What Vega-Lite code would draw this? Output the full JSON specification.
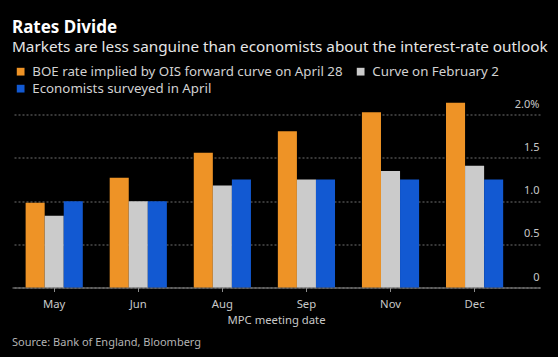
{
  "$schema": "https://vega.github.io/schema/vega-lite/v6.json",
  "background": "#000000",
  "autosize": {"type": "pad"},
  "padding": {"left": 12, "top": 18.5, "right": 10, "bottom": 10},
  "title": {
    "text": "Rates Divide",
    "subtitle": "Markets are less sanguine than economists about the interest-rate outlook",
    "anchor": "start",
    "frame": "group",
    "font": "Noto Sans",
    "fontSize": 17,
    "fontWeight": "bold",
    "color": "#ffffff",
    "subtitleFont": "Noto Sans",
    "subtitleFontSize": 15.3,
    "subtitleColor": "#e6e6e6",
    "subtitlePadding": 3,
    "offset": 8.5
  },
  "bounds": "flush",
  "vconcat": [
    {
      "width": 528,
      "height": 190,
      "title": {
        "text": "Source: Bank of England, Bloomberg",
        "orient": "bottom",
        "anchor": "start",
        "frame": "group",
        "font": "Noto Sans",
        "fontSize": 11,
        "fontWeight": "normal",
        "color": "#b4b4b4",
        "offset": 11
      },
      "data": {
        "values": [
          {"month": "May", "series": "BOE rate implied by OIS forward curve on April 28", "rate": 0.98},
          {"month": "May", "series": "Curve on February 2", "rate": 0.83},
          {"month": "May", "series": "Economists surveyed in April", "rate": 1.0},
          {"month": "Jun", "series": "BOE rate implied by OIS forward curve on April 28", "rate": 1.27},
          {"month": "Jun", "series": "Curve on February 2", "rate": 1.0},
          {"month": "Jun", "series": "Economists surveyed in April", "rate": 1.0},
          {"month": "Aug", "series": "BOE rate implied by OIS forward curve on April 28", "rate": 1.56},
          {"month": "Aug", "series": "Curve on February 2", "rate": 1.18},
          {"month": "Aug", "series": "Economists surveyed in April", "rate": 1.25},
          {"month": "Sep", "series": "BOE rate implied by OIS forward curve on April 28", "rate": 1.81},
          {"month": "Sep", "series": "Curve on February 2", "rate": 1.25},
          {"month": "Sep", "series": "Economists surveyed in April", "rate": 1.25},
          {"month": "Nov", "series": "BOE rate implied by OIS forward curve on April 28", "rate": 2.03},
          {"month": "Nov", "series": "Curve on February 2", "rate": 1.35},
          {"month": "Nov", "series": "Economists surveyed in April", "rate": 1.25},
          {"month": "Dec", "series": "BOE rate implied by OIS forward curve on April 28", "rate": 2.14},
          {"month": "Dec", "series": "Curve on February 2", "rate": 1.41},
          {"month": "Dec", "series": "Economists surveyed in April", "rate": 1.25}
        ]
      },
      "mark": {"type": "bar"},
      "encoding": {
        "x": {
          "field": "month",
          "type": "nominal",
          "sort": ["May", "Jun", "Aug", "Sep", "Nov", "Dec"],
          "scale": {"paddingInner": 0.32, "paddingOuter": 0.3, "align": 0.27},
          "axis": {
            "title": "MPC meeting date",
            "labelAngle": 0,
            "domainColor": "#8c8c8c",
            "tickColor": "#8c8c8c",
            "tickSize": 4,
            "labelColor": "#c8c8c8",
            "labelFont": "Noto Sans",
            "labelFontSize": 11.3,
            "labelPadding": 7,
            "titleColor": "#c8c8c8",
            "titleFont": "Noto Sans",
            "titleFontSize": 11.3,
            "titleFontWeight": "normal",
            "titlePadding": 5,
            "grid": false
          }
        },
        "xOffset": {
          "field": "series",
          "type": "nominal",
          "sort": ["BOE rate implied by OIS forward curve on April 28", "Curve on February 2", "Economists surveyed in April"]
        },
        "y": {
          "field": "rate",
          "type": "quantitative",
          "scale": {"domain": [0, 2.2], "nice": false},
          "axis": {
            "orient": "right",
            "title": null,
            "values": [0, 0.5, 1, 1.5, 2],
            "labelExpr": "datum.value == 0 ? '0' : datum.value == 2 ? '2.0%' : format(datum.value, '.1f')",
            "domain": false,
            "ticks": false,
            "tickSize": 0,
            "grid": true,
            "gridColor": "#707070",
            "gridDash": [2, 2],
            "gridWidth": 1,
            "labelAlign": "right",
            "labelBaseline": "alphabetic",
            "labelPadding": -1,
            "labelOffset": -7.5,
            "labelFlush": false,
            "labelOverlap": false,
            "labelColor": "#c8c8c8",
            "labelFont": "Noto Sans",
            "labelFontSize": 11
          }
        },
        "color": {
          "field": "series",
          "type": "nominal",
          "scale": {
            "domain": ["BOE rate implied by OIS forward curve on April 28", "Curve on February 2", "Economists surveyed in April"],
            "range": ["#ee9326", "#cbcbcb", "#1259d2"]
          },
          "legend": {
            "title": null,
            "orient": "none",
            "legendX": 2,
            "legendY": -32.5,
            "direction": "horizontal",
            "columns": 2,
            "symbolType": "square",
            "symbolSize": 60,
            "symbolStrokeWidth": 0,
            "labelColor": "#d2d2d2",
            "labelFont": "Noto Sans",
            "labelFontSize": 13.3,
            "labelOffset": 5,
            "columnPadding": 11,
            "rowPadding": 3,
            "labelLimit": 400
          }
        }
      }
    }
  ],
  "config": {
    "view": {"stroke": null},
    "font": "Noto Sans"
  }
}
